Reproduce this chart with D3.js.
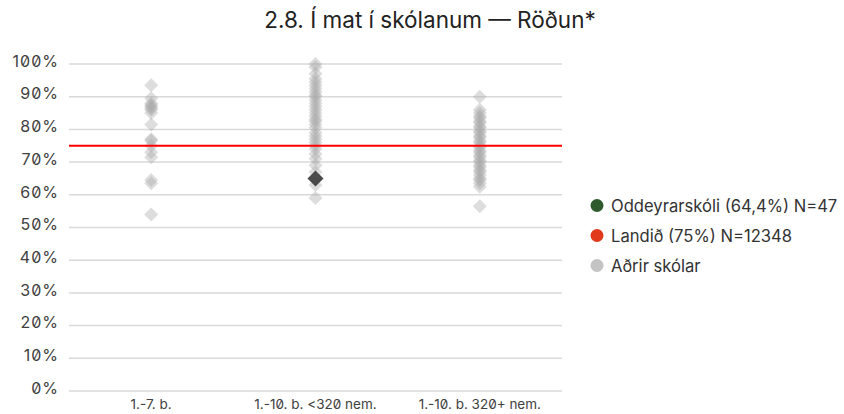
<!DOCTYPE html>
<html><head><meta charset="utf-8">
<script src="https://cdn.jsdelivr.net/npm/d3@7"></script>
<style>
html,body{margin:0;padding:0;background:#fff;}
svg{font-family:Inter,"Noto Sans",sans-serif;}
.num{font-feature-settings:"zero" 1;}
</style></head>
<body>
<svg id="c" width="844" height="414"></svg>
<script>
const title = "2.8. Í mat í skólanum — Röðun*";
const categories = ["1.-7. b.", "1.-10. b. <320 nem.", "1.-10. b. 320+ nem."];
const yTicks = [0,10,20,30,40,50,60,70,80,90,100];
const others1 = [93.5, 89.5, 88, 87.5, 87, 86.5, 86, 85, 81.5, 77, 76.5, 75, 73, 71.5, 64.5, 63.5, 54];
const others2 = [100, 99, 97, 95.5, 94.5, 93.5, 92.5, 91.5, 90.5, 90, 89, 88, 87, 86, 85, 84, 83, 82.5, 81.5, 80.5, 79, 78, 77, 76, 75, 74, 72.5, 71, 69, 67, 63, 59];
const others3 = [90, 86, 85, 84, 83.5, 82.5, 82, 81, 80.5, 79.5, 79, 78, 77.5, 76.5, 76, 75, 74.5, 73.5, 73, 72, 71.5, 70.5, 70, 69, 68.5, 67.5, 67, 66, 65, 64.5, 63.5, 62.5, 56.5];
const othersByCat = [others1, others2, others3];
const schoolCat = "1.-10. b. <320 nem.";
const schoolValue = 65;
const nationalValue = 75;
const legendItems = [
  {label:"Oddeyrarskóli (64,4%) N=47", color:"#2e5a2e"},
  {label:"Landið (75%) N=12348", color:"#e0391b"},
  {label:"Aðrir skólar", color:"#c4c4c4"}
];

const svg = d3.select("#c");
const m = {left:69, right:562, top:64, bottom:391};
const x = d3.scaleBand().domain(categories).range([m.left, m.right]);
const y = d3.scaleLinear().domain([0,100]).range([m.bottom, m.top]);

svg.append("text").attr("x",430).attr("y",28).attr("text-anchor","middle")
  .attr("font-size",22.5).attr("fill","#222").text(title);

// grid
svg.append("g").selectAll("line").data(yTicks).join("line")
  .attr("x1",m.left).attr("x2",m.right)
  .attr("y1",d=>y(d)).attr("y2",d=>y(d))
  .attr("stroke","#d9d9d9").attr("stroke-width",1.5);

// y labels
svg.append("g").selectAll("text").data(yTicks).join("text")
  .attr("class","num")
  .attr("x",59).attr("y",d=>y(d)+2.7)
  .attr("text-anchor","end").attr("font-size",16).attr("letter-spacing",1).attr("fill","#404040")
  .text(d=>d+"%");

// x labels
svg.append("g").selectAll("text").data(categories).join("text")
  .attr("class","num")
  .attr("x",d=>x(d)+x.bandwidth()/2).attr("y",409)
  .attr("text-anchor","middle").attr("font-size",13.5).attr("fill","#404040")
  .text(d=>d);

// other schools
const diamond = (s)=>`M0,${-s}L${s},0L0,${s}L${-s},0Z`;
const pts = [];
othersByCat.forEach((arr,i)=>arr.forEach(v=>pts.push({c:categories[i],v})));
svg.append("g").selectAll("path").data(pts).join("path")
  .attr("d",diamond(7))
  .attr("transform",d=>`translate(${x(d.c)+x.bandwidth()/2},${y(d.v)})`)
  .attr("fill","#aaaaaa").attr("fill-opacity",0.4);

// national line
svg.append("line").attr("x1",m.left).attr("x2",m.right)
  .attr("y1",y(nationalValue)).attr("y2",y(nationalValue))
  .attr("stroke","#ff0000").attr("stroke-width",2);

// school
svg.append("path").attr("d",diamond(8))
  .attr("transform",`translate(${x(schoolCat)+x.bandwidth()/2},${y(schoolValue)})`)
  .attr("fill","#4a4a4a");

// legend
const lg = svg.append("g").selectAll("g").data(legendItems).join("g")
  .attr("transform",(d,i)=>`translate(597,${205.5+i*30})`);
lg.append("circle").attr("r",6.5).attr("fill",d=>d.color);
lg.append("text").attr("x",14).attr("y",6).attr("font-size",16.6).attr("fill","#333").text(d=>d.label);
</script>
</body></html>
